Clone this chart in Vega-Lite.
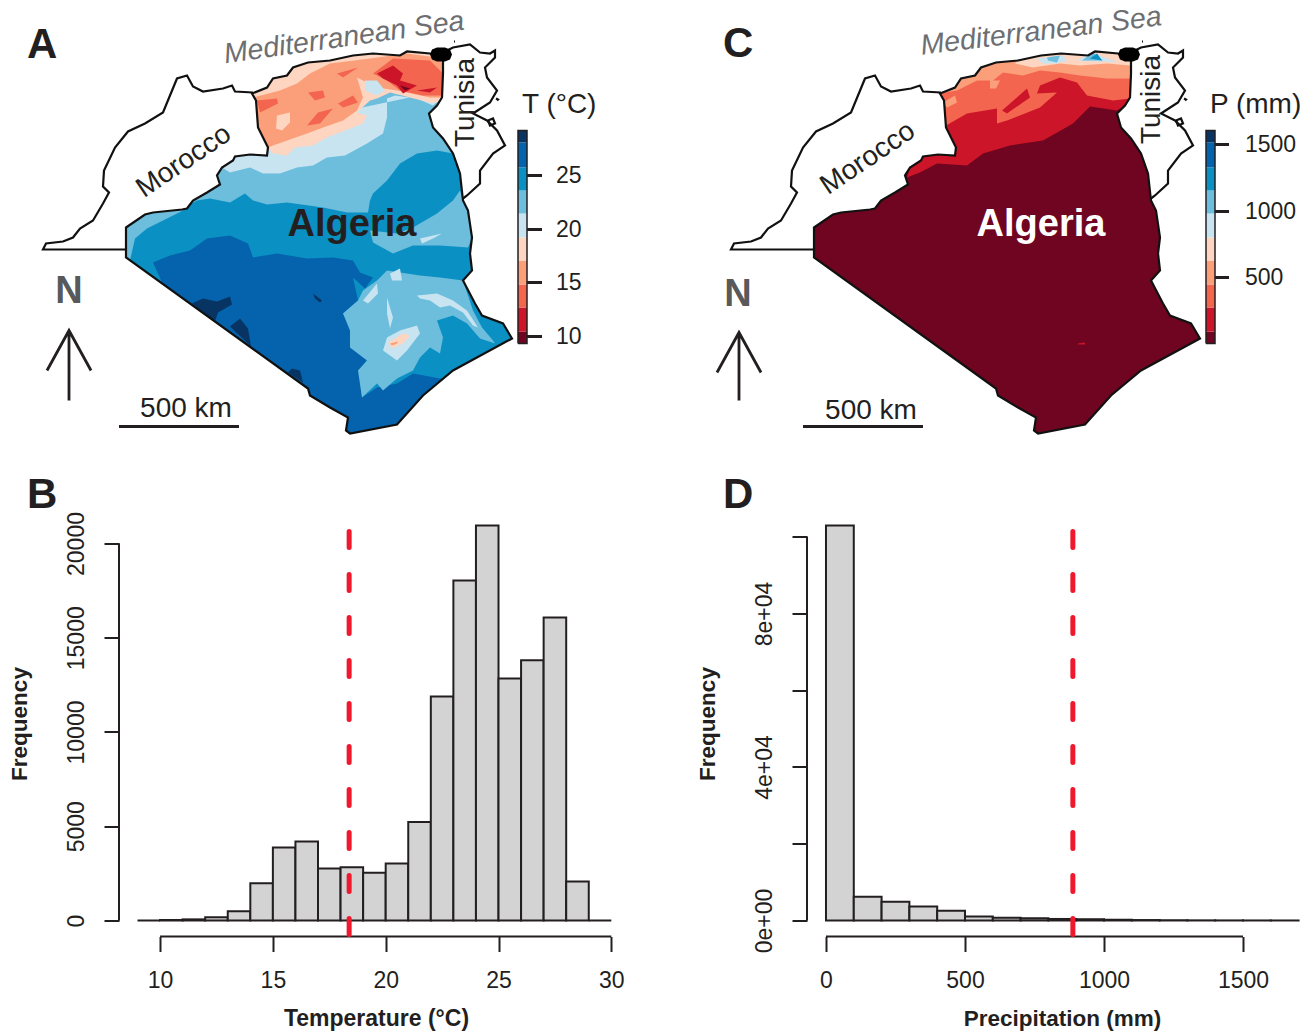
{"$schema":"https://vega.github.io/schema/vega-lite/v6.json","padding":{"left":8,"top":1.5,"right":0,"bottom":0},"background":"white","resolve":{"scale":{"color":"independent"}},"config":{"font":"Liberation Sans","view":{"stroke":null},"axis":{"grid":false,"domain":false,"labelColor":"#231f20","titleColor":"#231f20","tickColor":"#231f20","tickWidth":2,"tickSize":15,"labelFontSize":23,"titleFontSize":22.5,"titleFontWeight":"bold"}},"datasets":{"outlines":[{"type":"Feature","name":"Algeria","geometry":{"type":"Polygon","coordinates":[[[2.6,22.3],[4.5,23.6],[5.3,23.8],[8.2,24.1],[8.7,24.2],[9.3,25],[10.7,25.8],[12,26.6],[11.7,27.5],[12.2,28.3],[13.3,29],[13.5,29.4],[15,29.6],[16.7,29.5],[16.8,30.3],[15.8,32.3],[15.6,35],[15.2,35.7],[16.7,36.3],[17.3,37.2],[18.7,37.5],[19.3,38.3],[20.8,38.8],[23,39],[25.3,39.5],[27.3,39.7],[30,39.5],[30.7,39.9],[33,39.7],[34.3,39.5],[34.3,37.7],[34.2,35.3],[33.7,34.5],[32.9,33.7],[33.3,32.3],[34.3,31.2],[35.3,29.7],[36,27.7],[36.3,25],[36.8,24],[37.2,21.3],[37,19.7],[37.2,18],[36.3,17],[37.5,14.7],[38.2,13.5],[40.3,12.7],[41.2,11.2],[35.3,8],[32.3,5.5],[29.7,2.6],[25,1.7],[24.6,2],[24.8,3.3],[23,4.3],[21,5.5],[20.8,6.2],[2.6,19.3],[2.6,22.3]]]}},{"type":"Feature","name":"Morocco","geometry":{"type":"LineString","coordinates":[[2.6,20.1],[-5.7,20.1],[-5.4,20.7],[-3.7,20.9],[-2.7,21.3],[-2,22.2],[-0.7,23],[0.3,24.7],[0.9,25.8],[0.3,26.4],[0.4,28],[1.5,30.3],[2.8,31.9],[4.5,32.7],[6.3,33.8],[7.7,37.2],[8.7,37.5],[9.3,36.4],[10.3,35.9],[12.3,36.2],[13.2,36.5],[13.5,35.9],[15.3,35.8]]}},{"type":"Feature","name":"Tunisia","geometry":{"type":"LineString","coordinates":[[34.3,39.8],[35.3,40.3],[37,40.6],[38,39.8],[39,39.7],[39.5,40],[39.5,39.3],[38.5,38.3],[38.7,37.3],[39.7,36],[39,34.8],[37.3,33.7],[38.7,33],[39.7,32],[40.5,30.5],[39.3,29.7],[38,28],[38,26.7],[36.7,25.5],[36.3,25.2]]}},{"type":"Feature","name":"Kerkennah","geometry":{"type":"LineString","coordinates":[[38.8,33],[39.3,33.2],[39.5,32.7],[39,32.5],[38.8,33]]}},{"type":"Feature","name":"islet","geometry":{"type":"LineString","coordinates":[[39.6,35.2],[39.8,35.1],[39.7,35]]}},{"type":"Feature","name":"islet","geometry":{"type":"LineString","coordinates":[[35.4,40.9],[35.5,40.9]]}}],"algiers":[{"type":"Feature","name":"Algiers","geometry":{"type":"Polygon","coordinates":[[[33,39.6],[33.2,40.1],[33.7,40.3],[34.5,40.3],[35,40.1],[35.2,39.6],[35,39.1],[34.5,38.9],[33.7,38.9],[33.2,39.1],[33,39.6]]]}}],"tempZones":[{"type":"Feature","T":24.7,"geometry":{"type":"Polygon","coordinates":[[[2.6,22.3],[4.5,23.6],[5.3,23.8],[8.2,24.1],[8.7,24.2],[9.3,25],[10.7,25.8],[12,26.6],[11.7,27.5],[12.2,28.3],[13.3,29],[13.5,29.4],[15,29.6],[16.7,29.5],[16.8,30.3],[15.8,32.3],[15.6,35],[15.2,35.7],[16.7,36.3],[17.3,37.2],[18.7,37.5],[19.3,38.3],[20.8,38.8],[23,39],[25.3,39.5],[27.3,39.7],[30,39.5],[30.7,39.9],[33,39.7],[34.3,39.5],[34.3,37.7],[34.2,35.3],[33.7,34.5],[32.9,33.7],[33.3,32.3],[34.3,31.2],[35.3,29.7],[36,27.7],[36.3,25],[36.8,24],[37.2,21.3],[37,19.7],[37.2,18],[36.3,17],[37.5,14.7],[38.2,13.5],[40.3,12.7],[41.2,11.2],[35.3,8],[32.3,5.5],[29.7,2.6],[25,1.7],[24.6,2],[24.8,3.3],[23,4.3],[21,5.5],[20.8,6.2],[2.6,19.3],[2.6,22.3]]]}},{"type":"Feature","T":27,"geometry":{"type":"Polygon","coordinates":[[[6.2,16.8],[5.3,18.8],[7,19.5],[9,20],[10.7,21.2],[13,21.5],[14.8,20.7],[15.3,19.3],[17.7,19.7],[20.7,19.2],[23.3,19.3],[25.3,19],[26,17.8],[27.3,17.3],[26.5,16.2],[25.3,17.3],[25.8,15],[24.3,13.7],[25.3,12],[25,10.3],[26.7,9.2],[26,7],[26.2,5.3],[27.7,6.3],[29.7,6.7],[31.3,7.7],[34,7.2],[34.5,7.3],[32.3,5.5],[29.7,2.6],[25,1.7],[24.6,2],[24.8,3.3],[23,4.3],[21,5.5],[20.8,6.2],[6.2,16.8]]]}},{"type":"Feature","T":28.7,"geometry":{"type":"MultiPolygon","coordinates":[[[[9.2,14.7],[10.3,15.2],[11.7,14.9],[13,15.4],[13.2,14.6],[11.8,13.8],[11.5,12.9],[9.2,14.7]]],[[[13,12.4],[13.5,12.8],[14,13.2],[14.8,12.2],[15.1,10.4],[13,12.4]]],[[[18.8,7.8],[19.2,8.2],[20,8],[20.3,6.8],[18.8,7.8]]],[[[21.3,15.7],[22.2,15],[22,14.8],[21.5,15.2],[21.3,15.7]]]]}},{"type":"Feature","T":22.5,"geometry":{"type":"MultiPolygon","coordinates":[[[[8.8,24.5],[9.3,25],[10.7,25.8],[12,26.6],[11.7,27.5],[12.2,28.3],[13.3,29],[13.5,29.4],[15,29.6],[16.7,29.5],[16.8,30.3],[20,33],[28,36],[34.2,35.3],[33.7,34.5],[32.9,33.7],[33.3,32.3],[34.3,31.2],[35.3,29.7],[33.7,30],[31.7,29.7],[30,28.7],[28.7,27],[27.3,25.7],[27,25],[26.8,23.8],[24.7,23.8],[22.3,24.3],[18.7,24.8],[16.7,24.6],[15.3,25],[14.5,25.7],[13,24.8],[11,25.2],[9.7,25],[8.8,24.5]]],[[[2.6,22.3],[4.5,23.6],[5.3,23.8],[8.2,24.1],[8.7,24.2],[8.3,24],[6.3,23],[4.7,22.2],[3.5,21.2],[3,19],[2.6,19.3],[2.6,22.3]]],[[[36.3,25],[36.8,24],[37.2,21.3],[36.8,20.3],[34,20.5],[31.3,20.5],[29.3,19.7],[27.3,20.8],[27,22],[29.7,21.7],[31.3,22.3],[33.7,23.7],[35.3,25],[36,26],[36.3,25]]],[[[27.7,17],[28.7,18],[32,17.5],[34,17.3],[36.3,17],[37.3,14],[38.2,12.3],[39.3,11],[39.5,10.7],[38,11.2],[36.7,12.7],[35.3,13.5],[33.7,13],[34.3,11.3],[34,9.7],[33,10.3],[32,9.3],[31.3,8],[29.7,7.2],[28.3,6],[27.7,6.7],[26.2,5.3],[25.8,8],[26.7,9],[25,10.3],[25,12],[24.3,13.7],[25.8,15],[26.3,16],[27.7,17]]]]}},{"type":"Feature","T":20,"geometry":{"type":"MultiPolygon","coordinates":[[[[12.2,28.3],[13.3,29],[13.5,29.4],[15,29.6],[16.7,29.5],[16.8,30.3],[20,33],[34.3,36],[34.2,35.3],[33.3,34.5],[31.7,35.2],[29.5,35.5],[28.7,35.2],[28.7,33.3],[28.3,31.7],[26.7,30.7],[24.5,29.5],[22.7,29.3],[21.3,28.5],[19.7,28.3],[18,27.7],[16.3,27.7],[15,28.3],[13,27.8],[12.2,28.3]]],[[[32,21.2],[34.2,21.7],[33.3,21.2],[32.2,20.7],[32,21.2]]],[[[31.7,15.5],[33.7,15.7],[35.3,15],[36.7,14],[37.8,12.3],[37.3,12.5],[36.3,13.8],[35,14.5],[34,14.3],[33,15],[32,15.2],[31.7,15.5]]],[[[26.3,15],[27.7,16.7],[27.8,15.7],[26.8,14.7],[26.3,15]]],[[[28.7,15.3],[29.3,13.3],[29,12.2],[28.7,13.7],[28.7,15.3]]],[[[29,17.7],[30,18.2],[30.2,17],[29.2,17],[29,17.7]]],[[[28.3,10],[28.7,11.3],[30,12],[31.7,12.5],[32,11.7],[30.7,10],[29.7,9],[28.3,10]]]]}},{"type":"Feature","T":18,"geometry":{"type":"MultiPolygon","coordinates":[[[[15.2,35.7],[16.7,36.3],[17.3,37.2],[18.7,37.5],[19.3,38.3],[20.8,38.8],[23,39],[25.3,39.5],[27.3,39.7],[30,39.5],[30.7,39.9],[33,39.7],[34.3,39.5],[34.3,37.7],[34.2,35.3],[33.7,34.8],[33,34.8],[29,35.8],[27.7,35.2],[27,35],[25.7,33.8],[26.7,33.5],[26.3,32.7],[24.5,32],[22.7,31.3],[21.3,30.5],[19.5,30.3],[18.7,29.5],[17.3,29.7],[16.8,30.3],[15.8,32.3],[15.6,35],[15.2,35.7]]],[[[28.8,10.8],[30.3,11.7],[31,11.5],[30.3,10.7],[29.2,10.2],[28.8,10.8]]]]}},{"type":"Feature","T":16,"geometry":{"type":"MultiPolygon","coordinates":[[[[15.3,35.3],[18,36],[19.7,36.7],[21,37.7],[23,38.7],[27,39.2],[30.7,39.7],[33.7,39.3],[34.3,38.7],[34.3,35.3],[33,35.3],[29.7,36],[27.7,36.3],[25.7,37.3],[26.3,35.3],[25.7,34],[24.3,33],[22.3,32.3],[20.7,31.7],[18.7,31],[17.3,30.5],[16.8,30.3],[15.8,32.3],[15.6,35],[15.3,35.3]]],[[[29,10.7],[29.8,10.9],[29.7,10.7],[29.2,10.5],[29,10.7]]]]}},{"type":"Feature","T":18,"geometry":{"type":"Polygon","coordinates":[[[17.7,33.5],[19,33.8],[19,32.8],[18.2,32],[17.6,32.2],[17.7,33.5]]]}},{"type":"Feature","T":20,"geometry":{"type":"Polygon","coordinates":[[[26.5,37],[27.7,37],[28.5,36],[27.7,35.5],[26.5,36],[26.5,37]]]}},{"type":"Feature","T":13.8,"geometry":{"type":"MultiPolygon","coordinates":[[[[15.7,35],[17.7,35.2],[17.8,34.7],[16,33.8],[15.7,35]]],[[[20.8,35.8],[22.3,36],[22.5,35.3],[21.5,35],[20.8,35.8]]],[[[23.8,34.7],[25.3,35.5],[25.8,34.8],[24.3,34.3],[23.8,34.7]]],[[[20.7,32.5],[21.8,33.8],[23.3,34.2],[22,32.7],[20.7,32.5]]],[[[23.7,37.7],[25.8,38.3],[24.3,37.3],[23.7,37.7]]],[[[27.3,37.7],[29.3,39.2],[33,39],[34.3,37.7],[34.3,35.5],[32.3,35.5],[30,36],[28.7,37],[27.3,37.7]]]]}},{"type":"Feature","T":11.5,"geometry":{"type":"MultiPolygon","coordinates":[[[[27.7,37.7],[29.3,38.5],[30.3,37.7],[30,37],[31.7,36.5],[30.3,35.7],[29.7,36.5],[28.3,37.2],[27.7,37.7]]],[[[31.7,36],[33.7,36.3],[33,35.8],[31.7,36]]]]}},{"type":"Feature","T":10,"geometry":{"type":"Polygon","coordinates":[[[30,36.5],[31,36.2],[30.5,36],[30,36.5]]]}},{"type":"Feature","T":10,"geometry":{"type":"Polygon","coordinates":[[[41.8,10.7],[42.7,10.7],[42.7,11.9],[41.8,11.9],[41.8,10.7]]]}},{"type":"Feature","T":11.5,"geometry":{"type":"Polygon","coordinates":[[[41.8,11.9],[42.7,11.9],[42.7,14.3],[41.8,14.3],[41.8,11.9]]]}},{"type":"Feature","T":13.8,"geometry":{"type":"Polygon","coordinates":[[[41.8,14.3],[42.7,14.3],[42.7,16.6],[41.8,16.6],[41.8,14.3]]]}},{"type":"Feature","T":16,"geometry":{"type":"Polygon","coordinates":[[[41.8,16.6],[42.7,16.6],[42.7,19],[41.8,19],[41.8,16.6]]]}},{"type":"Feature","T":18,"geometry":{"type":"Polygon","coordinates":[[[41.8,19],[42.7,19],[42.7,21.3],[41.8,21.3],[41.8,19]]]}},{"type":"Feature","T":20,"geometry":{"type":"Polygon","coordinates":[[[41.8,21.3],[42.7,21.3],[42.7,23.7],[41.8,23.7],[41.8,21.3]]]}},{"type":"Feature","T":22.5,"geometry":{"type":"Polygon","coordinates":[[[41.8,23.7],[42.7,23.7],[42.7,26],[41.8,26],[41.8,23.7]]]}},{"type":"Feature","T":24.7,"geometry":{"type":"Polygon","coordinates":[[[41.8,26],[42.7,26],[42.7,28.3],[41.8,28.3],[41.8,26]]]}},{"type":"Feature","T":27,"geometry":{"type":"Polygon","coordinates":[[[41.8,28.3],[42.7,28.3],[42.7,30.8],[41.8,30.8],[41.8,28.3]]]}},{"type":"Feature","T":28.7,"geometry":{"type":"Polygon","coordinates":[[[41.8,30.8],[42.7,30.8],[42.7,32],[41.8,32],[41.8,30.8]]]}}],"precipZones":[{"type":"Feature","P":50,"geometry":{"type":"Polygon","coordinates":[[[2.6,22.3],[4.5,23.6],[5.3,23.8],[8.2,24.1],[8.7,24.2],[9.3,25],[10.7,25.8],[12,26.6],[11.7,27.5],[12.2,28.3],[13.3,29],[13.5,29.4],[15,29.6],[16.7,29.5],[16.8,30.3],[15.8,32.3],[15.6,35],[15.2,35.7],[16.7,36.3],[17.3,37.2],[18.7,37.5],[19.3,38.3],[20.8,38.8],[23,39],[25.3,39.5],[27.3,39.7],[30,39.5],[30.7,39.9],[33,39.7],[34.3,39.5],[34.3,37.7],[34.2,35.3],[33.7,34.5],[32.9,33.7],[33.3,32.3],[34.3,31.2],[35.3,29.7],[36,27.7],[36.3,25],[36.8,24],[37.2,21.3],[37,19.7],[37.2,18],[36.3,17],[37.5,14.7],[38.2,13.5],[40.3,12.7],[41.2,11.2],[35.3,8],[32.3,5.5],[29.7,2.6],[25,1.7],[24.6,2],[24.8,3.3],[23,4.3],[21,5.5],[20.8,6.2],[2.6,19.3],[2.6,22.3]]]}},{"type":"Feature","P":185,"geometry":{"type":"MultiPolygon","coordinates":[[[[11.9,27.3],[12.2,28.3],[13.3,29],[13.5,29.4],[15,29.6],[16.7,29.5],[16.8,30.3],[15.8,32.3],[15.6,35],[15.2,35.7],[16.7,36.3],[17.3,37.2],[18.7,37.5],[19.3,38.3],[20.8,38.8],[23,39],[25.3,39.5],[27.3,39.7],[30,39.5],[30.7,39.9],[33,39.7],[34.3,39.5],[34.3,37.7],[34.2,35.3],[33.7,34.5],[32.9,34],[30.2,34.4],[28.5,32.7],[25.5,31],[22.2,30.5],[19.5,29.7],[17.9,28.5],[14.9,28.7],[13.2,27.8],[11.9,27.3]]],[[[29,10.7],[29.7,10.8],[29.7,10.6],[29,10.6],[29,10.7]]]]}},{"type":"Feature","P":360,"geometry":{"type":"Polygon","coordinates":[[[15.8,32.5],[17.9,33.7],[20.9,34.2],[20.9,32.7],[21.9,33],[25.2,34.3],[26.9,35.8],[24.9,35.7],[25.2,36.5],[27.2,37.3],[28.9,36.8],[29.9,35.5],[32.5,35],[34.2,35.2],[34.3,37.7],[34.3,39.5],[33,39.7],[30.7,39.9],[30,39.5],[27.3,39.7],[25.3,39.5],[23,39],[20.8,38.8],[19.3,38.3],[18.7,37.5],[17.3,37.2],[16.7,36.3],[15.2,35.7],[15.6,35],[15.8,32.5]]]}},{"type":"Feature","P":185,"geometry":{"type":"Polygon","coordinates":[[[21.4,34],[23.9,36.2],[24.2,35.3],[21.9,33.7],[21.4,34]]]}},{"type":"Feature","P":540,"geometry":{"type":"MultiPolygon","coordinates":[[[[15,35.7],[16.9,36],[18.9,37],[20.5,37],[21.5,37.8],[23.5,37.5],[25.2,38],[27.2,37.8],[29.2,37.5],[31.9,37.2],[34.2,37.2],[34.3,39.5],[33,39.7],[30.7,39.9],[30,39.5],[27.3,39.7],[25.3,39.5],[23,39],[20.8,38.8],[19.3,38.3],[18.7,37.5],[17.3,37.2],[16.7,36.3],[15.2,35.7],[15,35.7]]],[[[15.5,34.8],[16.7,35.5],[16.9,34.8],[15.9,34.3],[15.5,34.8]]],[[[20.2,37],[21.2,37],[20.8,36.2],[20.2,36.2],[20.2,37]]]]}},{"type":"Feature","P":715,"geometry":{"type":"Polygon","coordinates":[[[22.7,38.7],[24.5,38.3],[27.2,38.7],[29.2,38.5],[31.9,38.7],[34.2,38.5],[34.3,39.5],[33,39.7],[30.7,39.9],[30,39.5],[27.3,39.7],[25.3,39.5],[23,39],[22.7,38.7]]]}},{"type":"Feature","P":890,"geometry":{"type":"MultiPolygon","coordinates":[[[[24.9,39.2],[27.5,39.5],[27.9,39],[26.9,38.7],[25.5,38.7],[24.9,39.2]]],[[[28.9,39],[30.5,39.8],[31.9,39.2],[33,38.9],[31,38.9],[28.9,39]]]]}},{"type":"Feature","P":1065,"geometry":{"type":"MultiPolygon","coordinates":[[[[25.9,39.3],[27.2,39.5],[26.9,38.8],[26,39],[25.9,39.3]]],[[[29.4,39],[30.5,39.8],[31.5,39],[29.4,39]]]]}},{"type":"Feature","P":1240,"geometry":{"type":"Polygon","coordinates":[[[30.2,39.2],[30.9,39.7],[31.4,39],[30.2,39.2]]]}},{"type":"Feature","P":50,"geometry":{"type":"Polygon","coordinates":[[[41.8,10.7],[42.7,10.7],[42.7,11.9],[41.8,11.9],[41.8,10.7]]]}},{"type":"Feature","P":185,"geometry":{"type":"Polygon","coordinates":[[[41.8,11.9],[42.7,11.9],[42.7,14.3],[41.8,14.3],[41.8,11.9]]]}},{"type":"Feature","P":360,"geometry":{"type":"Polygon","coordinates":[[[41.8,14.3],[42.7,14.3],[42.7,16.6],[41.8,16.6],[41.8,14.3]]]}},{"type":"Feature","P":540,"geometry":{"type":"Polygon","coordinates":[[[41.8,16.6],[42.7,16.6],[42.7,19],[41.8,19],[41.8,16.6]]]}},{"type":"Feature","P":715,"geometry":{"type":"Polygon","coordinates":[[[41.8,19],[42.7,19],[42.7,21.3],[41.8,21.3],[41.8,19]]]}},{"type":"Feature","P":890,"geometry":{"type":"Polygon","coordinates":[[[41.8,21.3],[42.7,21.3],[42.7,23.7],[41.8,23.7],[41.8,21.3]]]}},{"type":"Feature","P":1065,"geometry":{"type":"Polygon","coordinates":[[[41.8,23.7],[42.7,23.7],[42.7,26],[41.8,26],[41.8,23.7]]]}},{"type":"Feature","P":1240,"geometry":{"type":"Polygon","coordinates":[[[41.8,26],[42.7,26],[42.7,28.3],[41.8,28.3],[41.8,26]]]}},{"type":"Feature","P":1420,"geometry":{"type":"Polygon","coordinates":[[[41.8,28.3],[42.7,28.3],[42.7,30.8],[41.8,30.8],[41.8,28.3]]]}},{"type":"Feature","P":1560,"geometry":{"type":"Polygon","coordinates":[[[41.8,30.8],[42.7,30.8],[42.7,32],[41.8,32],[41.8,30.8]]]}}],"barFrame":[{"type":"Feature","geometry":{"type":"LineString","coordinates":[[41.8,10.7],[42.7,10.7],[42.7,32],[41.8,32],[41.8,10.7]]}}],"tempDecor":[{"type":"Feature","name":"tick","geometry":{"type":"MultiLineString","coordinates":[[[42.7,27.5],[44.2,27.5]],[[42.7,22.1],[44.2,22.1]],[[42.7,16.8],[44.2,16.8]],[[42.7,11.4],[44.2,11.4]]]}},{"type":"Feature","name":"scale bar","geometry":{"type":"LineString","coordinates":[[1.9,2.4],[13.9,2.4]]}},{"type":"Feature","name":"north arrow","geometry":{"type":"MultiLineString","coordinates":[[[-3.1,5],[-3.1,12]],[[-5.3,8],[-3.1,12],[-0.9,8]]]}}],"precipDecor":[{"type":"Feature","name":"tick","geometry":{"type":"MultiLineString","coordinates":[[[42.7,30.6],[44.1,30.6]],[[42.7,23.9],[44.1,23.9]],[[42.7,17.3],[44.1,17.3]]]}},{"type":"Feature","name":"scale bar","geometry":{"type":"LineString","coordinates":[[1.5,2.4],[13.5,2.4]]}},{"type":"Feature","name":"north arrow","geometry":{"type":"MultiLineString","coordinates":[[[-4.9,5],[-4.9,11.8]],[[-7.1,7.8],[-4.9,11.8],[-2.7,7.8]]]}}]},"columns":2,"bounds":"flush","spacing":{"row":80,"column":188},"concat":[{"width":500,"height":434,"title":{"text":"A","anchor":"start","frame":"group","fontSize":42,"fontWeight":"bold","color":"#231f20","dx":-92,"dy":60,"offset":0},"projection":{"type":"identity","reflectY":true,"scale":10,"translate":[-19,440]},"layer":[{"data":{"name":"tempZones"},"mark":{"type":"geoshape","clip":false},"encoding":{"color":{"field":"T","type":"quantitative","legend":null,"scale":{"type":"threshold","domain":[10.45,12.7,14.8,17,19.2,21.5,23.6,25.8,28.1],"range":["#6f0520","#cc1528","#f4654f","#fb9f7a","#fdd5c1","#c7e4f0","#6dbddd","#0a90c3","#0463ac","#083464"]}}}},{"data":{"name":"outlines"},"mark":{"type":"geoshape","clip":false,"filled":false,"stroke":"#111111","strokeWidth":2.2}},{"data":{"name":"barFrame"},"mark":{"type":"geoshape","clip":false,"filled":false,"stroke":"#231f20","strokeWidth":1.5}},{"data":{"name":"tempDecor"},"mark":{"type":"geoshape","clip":false,"filled":false,"stroke":"#231f20","strokeWidth":2.8}},{"data":{"name":"algiers"},"mark":{"type":"geoshape","clip":false,"fill":"#000000"}},{"data":{"values":[{"x":24.4,"y":41.3,"label":"Mediterranean Sea"}]},"mark":{"type":"text","clip":false,"fontSize":28.5,"fontStyle":"italic","color":"#6d6e71","angle":-8,"align":"center","baseline":"middle"},"encoding":{"longitude":{"field":"x","type":"quantitative"},"latitude":{"field":"y","type":"quantitative"},"text":{"field":"label"}}},{"data":{"values":[{"x":8.4,"y":28.9,"label":"Morocco"}]},"mark":{"type":"text","clip":false,"fontSize":28,"color":"#231f20","angle":-34,"align":"center","baseline":"middle"},"encoding":{"longitude":{"field":"x","type":"quantitative"},"latitude":{"field":"y","type":"quantitative"},"text":{"field":"label"}}},{"data":{"values":[{"x":36.6,"y":34.8,"label":"Tunisia"}]},"mark":{"type":"text","clip":false,"fontSize":28,"color":"#231f20","angle":-90,"align":"center","baseline":"middle"},"encoding":{"longitude":{"field":"x","type":"quantitative"},"latitude":{"field":"y","type":"quantitative"},"text":{"field":"label"}}},{"data":{"values":[{"x":25.2,"y":22.6,"label":"Algeria"}]},"mark":{"type":"text","clip":false,"fontSize":38,"fontWeight":"bold","color":"#231f20","align":"center","baseline":"middle"},"encoding":{"longitude":{"field":"x","type":"quantitative"},"latitude":{"field":"y","type":"quantitative"},"text":{"field":"label"}}},{"data":{"values":[{"x":-3.1,"y":15.9,"label":"N"}]},"mark":{"type":"text","clip":false,"fontSize":38,"fontWeight":"bold","color":"#58595b","align":"center","baseline":"middle"},"encoding":{"longitude":{"field":"x","type":"quantitative"},"latitude":{"field":"y","type":"quantitative"},"text":{"field":"label"}}},{"data":{"values":[{"x":8.6,"y":4.2,"label":"500 km"}]},"mark":{"type":"text","clip":false,"fontSize":28,"color":"#231f20","align":"center","baseline":"middle"},"encoding":{"longitude":{"field":"x","type":"quantitative"},"latitude":{"field":"y","type":"quantitative"},"text":{"field":"label"}}},{"data":{"values":[{"x":42.2,"y":34.6,"label":"T (°C)"}]},"mark":{"type":"text","clip":false,"fontSize":28,"color":"#231f20","align":"left","baseline":"middle"},"encoding":{"longitude":{"field":"x","type":"quantitative"},"latitude":{"field":"y","type":"quantitative"},"text":{"field":"label"}}},{"data":{"values":[{"x":45.6,"y":27.5,"label":"25"},{"x":45.6,"y":22.1,"label":"20"},{"x":45.6,"y":16.8,"label":"15"},{"x":45.6,"y":11.4,"label":"10"}]},"mark":{"type":"text","clip":false,"fontSize":23,"color":"#231f20","align":"left","baseline":"middle"},"encoding":{"longitude":{"field":"x","type":"quantitative"},"latitude":{"field":"y","type":"quantitative"},"text":{"field":"label"}}}]},{"width":500,"height":434,"title":{"text":"C","anchor":"start","frame":"group","fontSize":42,"fontWeight":"bold","color":"#231f20","dx":-84,"dy":63.5,"offset":0},"projection":{"type":"identity","reflectY":true,"scale":10,"translate":[-19,440]},"layer":[{"data":{"name":"precipZones"},"mark":{"type":"geoshape","clip":false},"encoding":{"color":{"field":"P","type":"quantitative","legend":null,"scale":{"type":"threshold","domain":[95,275,447,627,800,980,1152,1325,1512],"range":["#6f0520","#cc1528","#f4654f","#fb9f7a","#fdd5c1","#c7e4f0","#6dbddd","#0a90c3","#0463ac","#083464"]}}}},{"data":{"name":"outlines"},"mark":{"type":"geoshape","clip":false,"filled":false,"stroke":"#111111","strokeWidth":2.2}},{"data":{"name":"barFrame"},"mark":{"type":"geoshape","clip":false,"filled":false,"stroke":"#231f20","strokeWidth":1.5}},{"data":{"name":"precipDecor"},"mark":{"type":"geoshape","clip":false,"filled":false,"stroke":"#231f20","strokeWidth":2.8}},{"data":{"name":"algiers"},"mark":{"type":"geoshape","clip":false,"fill":"#000000"}},{"data":{"values":[{"x":25.3,"y":41.95,"label":"Mediterranean Sea"}]},"mark":{"type":"text","clip":false,"fontSize":28.5,"fontStyle":"italic","color":"#6d6e71","angle":-7,"align":"center","baseline":"middle"},"encoding":{"longitude":{"field":"x","type":"quantitative"},"latitude":{"field":"y","type":"quantitative"},"text":{"field":"label"}}},{"data":{"values":[{"x":8,"y":29.2,"label":"Morocco"}]},"mark":{"type":"text","clip":false,"fontSize":28,"color":"#231f20","angle":-34,"align":"center","baseline":"middle"},"encoding":{"longitude":{"field":"x","type":"quantitative"},"latitude":{"field":"y","type":"quantitative"},"text":{"field":"label"}}},{"data":{"values":[{"x":36.4,"y":35.1,"label":"Tunisia"}]},"mark":{"type":"text","clip":false,"fontSize":28,"color":"#231f20","angle":-90,"align":"center","baseline":"middle"},"encoding":{"longitude":{"field":"x","type":"quantitative"},"latitude":{"field":"y","type":"quantitative"},"text":{"field":"label"}}},{"data":{"values":[{"x":25.3,"y":22.6,"label":"Algeria"}]},"mark":{"type":"text","clip":false,"fontSize":38,"fontWeight":"bold","color":"#ffffff","align":"center","baseline":"middle"},"encoding":{"longitude":{"field":"x","type":"quantitative"},"latitude":{"field":"y","type":"quantitative"},"text":{"field":"label"}}},{"data":{"values":[{"x":-5,"y":15.6,"label":"N"}]},"mark":{"type":"text","clip":false,"fontSize":38,"fontWeight":"bold","color":"#58595b","align":"center","baseline":"middle"},"encoding":{"longitude":{"field":"x","type":"quantitative"},"latitude":{"field":"y","type":"quantitative"},"text":{"field":"label"}}},{"data":{"values":[{"x":8.3,"y":4,"label":"500 km"}]},"mark":{"type":"text","clip":false,"fontSize":28,"color":"#231f20","align":"center","baseline":"middle"},"encoding":{"longitude":{"field":"x","type":"quantitative"},"latitude":{"field":"y","type":"quantitative"},"text":{"field":"label"}}},{"data":{"values":[{"x":42.2,"y":34.6,"label":"P (mm)"}]},"mark":{"type":"text","clip":false,"fontSize":28,"color":"#231f20","align":"left","baseline":"middle"},"encoding":{"longitude":{"field":"x","type":"quantitative"},"latitude":{"field":"y","type":"quantitative"},"text":{"field":"label"}}},{"data":{"values":[{"x":45.7,"y":30.6,"label":"1500"},{"x":45.7,"y":23.9,"label":"1000"},{"x":45.7,"y":17.3,"label":"500"}]},"mark":{"type":"text","clip":false,"fontSize":23,"color":"#231f20","align":"left","baseline":"middle"},"encoding":{"longitude":{"field":"x","type":"quantitative"},"latitude":{"field":"y","type":"quantitative"},"text":{"field":"label"}}}]},{"width":500,"height":412,"title":{"text":"B","anchor":"start","frame":"group","fontSize":42,"fontWeight":"bold","color":"#231f20","dx":-92,"dy":5,"offset":0},"layer":[{"data":{"values":[{"start":9,"end":10,"count":0},{"start":10,"end":11,"count":20},{"start":11,"end":12,"count":60},{"start":12,"end":13,"count":170},{"start":13,"end":14,"count":495},{"start":14,"end":15,"count":1980},{"start":15,"end":16,"count":3870},{"start":16,"end":17,"count":4190},{"start":17,"end":18,"count":2760},{"start":18,"end":19,"count":2830},{"start":19,"end":20,"count":2530},{"start":20,"end":21,"count":3020},{"start":21,"end":22,"count":5230},{"start":22,"end":23,"count":11880},{"start":23,"end":24,"count":18040},{"start":24,"end":25,"count":20950},{"start":25,"end":26,"count":12840},{"start":26,"end":27,"count":13800},{"start":27,"end":28,"count":16070},{"start":28,"end":29,"count":2070},{"start":29,"end":30,"count":0}]},"mark":{"type":"rect","fill":"#d3d3d3","stroke":"#231f20","strokeWidth":2},"encoding":{"x":{"field":"start","type":"quantitative","scale":{"domain":[8.18,30.34],"nice":false,"zero":false},"axis":{"values":[10,15,20,25,30],"labelPadding":18,"titlePadding":15,"titleFontSize":23,"titleX":257,"title":"Temperature (°C)"}},"x2":{"field":"end"},"y":{"field":"count","type":"quantitative","scale":{"domain":[-849,21008],"nice":false,"zero":false},"axis":{"values":[0,5000,10000,15000,20000],"labelAngle":-90,"labelAlign":"center","labelBaseline":"bottom","labelPadding":16,"titlePadding":34,"titleY":199,"title":"Frequency","format":"d"}},"y2":{"datum":0}}},{"data":{"values":[{"from":10,"to":30,"at":-849}]},"mark":{"type":"rule","stroke":"#231f20","strokeWidth":2},"encoding":{"x":{"field":"from","type":"quantitative"},"x2":{"field":"to"},"y":{"field":"at","type":"quantitative"}}},{"data":{"values":[{"at":8.18,"from":0,"to":20000}]},"mark":{"type":"rule","stroke":"#231f20","strokeWidth":2},"encoding":{"x":{"field":"at","type":"quantitative"},"y":{"field":"from","type":"quantitative"},"y2":{"field":"to"}}},{"data":{"values":[{"mean":18.38,"top":20637,"bottom":-849}]},"mark":{"type":"rule","stroke":"#f0182d","strokeWidth":5,"strokeDash":[16,27],"strokeCap":"round"},"encoding":{"x":{"field":"mean","type":"quantitative"},"y":{"field":"top","type":"quantitative"},"y2":{"field":"bottom"}}}]},{"width":500,"height":412,"title":{"text":"D","anchor":"start","frame":"group","fontSize":42,"fontWeight":"bold","color":"#231f20","dx":-84,"dy":-8,"offset":0},"layer":[{"data":{"values":[{"start":0,"end":100,"count":102900},{"start":100,"end":200,"count":6170},{"start":200,"end":300,"count":4870},{"start":300,"end":400,"count":3650},{"start":400,"end":500,"count":2520},{"start":500,"end":600,"count":1040},{"start":600,"end":700,"count":700},{"start":700,"end":800,"count":560},{"start":800,"end":900,"count":400},{"start":900,"end":1000,"count":330},{"start":1000,"end":1100,"count":200},{"start":1100,"end":1200,"count":120},{"start":1200,"end":1300,"count":70},{"start":1300,"end":1400,"count":40},{"start":1400,"end":1500,"count":25},{"start":1500,"end":1600,"count":15},{"start":1600,"end":1700,"count":8}]},"mark":{"type":"rect","fill":"#d3d3d3","stroke":"#231f20","strokeWidth":2},"encoding":{"x":{"field":"start","type":"quantitative","scale":{"domain":[-68.3,1730.2],"nice":false,"zero":false},"axis":{"values":[0,500,1000,1500],"labelPadding":18,"titlePadding":15,"format":"d","titleX":255,"title":"Precipitation (mm)"}},"x2":{"field":"end"},"y":{"field":"count","type":"quantitative","scale":{"domain":[-4170,103192],"nice":false,"zero":false},"axis":{"values":[0,20000,40000,60000,80000,100000],"labelExpr":"datum.value==0?'0e+00':datum.value==40000?'4e+04':datum.value==80000?'8e+04':''","labelAngle":-90,"labelAlign":"center","labelBaseline":"bottom","labelPadding":16,"titlePadding":34,"titleY":199,"title":"Frequency"}},"y2":{"datum":0}}},{"data":{"values":[{"from":0,"to":1500,"at":-4170}]},"mark":{"type":"rule","stroke":"#231f20","strokeWidth":2},"encoding":{"x":{"field":"from","type":"quantitative"},"x2":{"field":"to"},"y":{"field":"at","type":"quantitative"}}},{"data":{"values":[{"at":-68.3,"from":0,"to":100000}]},"mark":{"type":"rule","stroke":"#231f20","strokeWidth":2},"encoding":{"x":{"field":"at","type":"quantitative"},"y":{"field":"from","type":"quantitative"},"y2":{"field":"to"}}},{"data":{"values":[{"mean":888,"top":101370,"bottom":-4170}]},"mark":{"type":"rule","stroke":"#f0182d","strokeWidth":5,"strokeDash":[16,27],"strokeCap":"round"},"encoding":{"x":{"field":"mean","type":"quantitative"},"y":{"field":"top","type":"quantitative"},"y2":{"field":"bottom"}}}]}]}
